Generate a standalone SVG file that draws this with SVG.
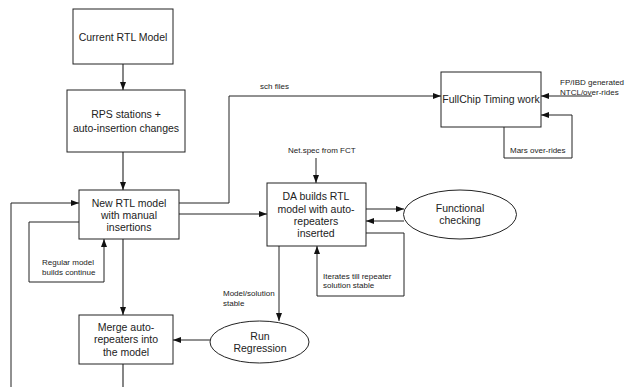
<svg xmlns="http://www.w3.org/2000/svg" width="632" height="387" viewBox="0 0 632 387">
<defs>
<marker id="ah" viewBox="0 0 8 6" refX="8" refY="3" markerWidth="8" markerHeight="6" markerUnits="userSpaceOnUse" orient="auto">
<path d="M0,0 L8,3 L0,6 Z" fill="#111"/>
</marker>
<style>
.box{fill:#fff;stroke:#222;stroke-width:1}
.t{font-family:"Liberation Sans",Arial,sans-serif;font-size:10.5px;fill:#222;text-anchor:middle}
.s{font-family:"Liberation Sans",Arial,sans-serif;font-size:8px;fill:#222}
.c{fill:none;stroke:#222;stroke-width:1}
.g{fill:none;stroke:#444;stroke-width:1.3}
.a{marker-end:url(#ah)}
</style>
</defs>
<rect width="632" height="387" fill="#fff"/>
<g id="connectors">
<path class="g a" d="M123,64 V90"/>
<path class="g a" d="M123,152 V190"/>
<path class="g a" d="M123,239 V315"/>
<path class="g" d="M123,364 V387"/>
<path class="c a" d="M11,387 V203 H79"/>
<path class="c a" d="M79,222 H29 V282 H104 V239"/>
<path class="c a" d="M179,203 H229 V96 H441"/>
<path class="c a" d="M179,214 H267"/>
<path class="c a" d="M316,158 V183"/>
<path class="c a" d="M366,209 H404"/>
<path class="c a" d="M404,221 H366"/>
<path class="c a" d="M366,233 H404 V296 H317 V246"/>
<path class="c a" d="M279,246 V321"/>
<path class="c a" d="M210,340 H173"/>
<path class="c a" d="M592,96 H541"/>
<path class="c a" d="M504,127 V158 H572 V115 H541"/>
</g>
<g id="current-rtl">
<rect class="box" x="73" y="9" width="100" height="55"/>
<text class="t" x="123" y="41">Current RTL Model</text>
</g>
<g id="rps">
<rect class="box" x="67" y="90" width="118" height="62"/>
<text class="t" x="126" y="118">RPS stations +</text>
<text class="t" x="126" y="132">auto-insertion changes</text>
</g>
<g id="new-rtl">
<rect class="box" x="79" y="190" width="100" height="49"/>
<text class="t" x="129" y="207">New RTL model</text>
<text class="t" x="129" y="219">with manual</text>
<text class="t" x="129" y="231">insertions</text>
</g>
<g id="merge">
<rect class="box" x="79" y="315" width="94" height="49"/>
<text class="t" x="126" y="331">Merge auto-</text>
<text class="t" x="126" y="343">repeaters into</text>
<text class="t" x="126" y="356">the model</text>
</g>
<g id="da-builds">
<rect class="box" x="267" y="183" width="99" height="63"/>
<text class="t" x="316" y="200">DA builds RTL</text>
<text class="t" x="316" y="213">model with auto-</text>
<text class="t" x="316" y="225">repeaters</text>
<text class="t" x="316" y="237">inserted</text>
</g>
<g id="functional">
<ellipse class="box" cx="460" cy="214.5" rx="56.5" ry="24.5"/>
<text class="t" x="460" y="212">Functional</text>
<text class="t" x="460" y="224">checking</text>
</g>
<g id="regression">
<ellipse class="box" cx="259.5" cy="342" rx="49.5" ry="21"/>
<text class="t" x="260" y="340">Run</text>
<text class="t" x="260" y="352">Regression</text>
</g>
<g id="fullchip">
<rect class="box" x="441" y="72" width="100" height="55"/>
<text class="t" x="491" y="103">FullChip Timing work</text>
</g>
<g id="labels">
<text class="s" x="260" y="89">sch files</text>
<text class="s" x="288" y="153">Net.spec from FCT</text>
<text class="s" x="560" y="85">FP/IBD generated</text>
<text class="s" x="560" y="95">NTCL/over-rides</text>
<text class="s" x="510" y="153">Mars over-rides</text>
<text class="s" x="42" y="265">Regular model</text>
<text class="s" x="42" y="275">builds continue</text>
<text class="s" x="323" y="279">Iterates till repeater</text>
<text class="s" x="323" y="288">solution stable</text>
<text class="s" x="223" y="296">Model/solution</text>
<text class="s" x="223" y="306">stable</text>
</g>
</svg>
